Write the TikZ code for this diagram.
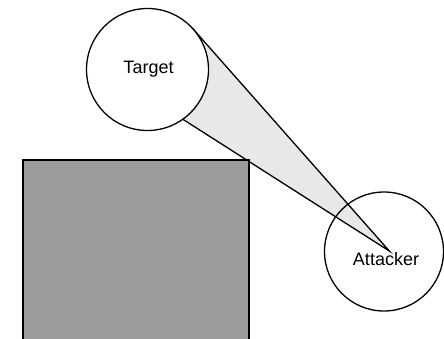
\documentclass[tikz,border=0pt]{standalone}
\usepackage{fontspec}
\setmainfont{Liberation Sans}
\usetikzlibrary{calc}
\definecolor{wallgray}{HTML}{9C9C9C}
\definecolor{conegray}{HTML}{E8E8E8}
\tikzset{
  line/.style={line width=1.3pt, draw=black},
  roundnode/.style={circle, line, inner sep=0pt, outer sep=0pt},
  lbl/.style={inner sep=0pt, font=\fontsize{18}{21}\selectfont},
}
\begin{document}
\begin{tikzpicture}[x=1pt, y=-1pt]
\useasboundingbox (0,0) rectangle (444,338);
\clip (0,0) rectangle (444,338);
% viewing cone (behind everything)
\coordinate (apex) at (389.3,251);
\coordinate (tcenter) at (147.5,69.5);
\coordinate (tup) at (193.2,29.1);
\coordinate (tlow) at (160,104.7);
\draw[line, fill=conegray, line join=miter] (apex) -- (tup) -- (tcenter) -- (tlow) -- cycle;
% wall
\node[line, fill=wallgray, anchor=north west, minimum width=226pt, minimum height=190pt, inner sep=0pt, outer sep=0pt] (wall) at (23,160) {};
% target
\node[roundnode, fill=white, minimum size=122pt] (target) at (tcenter) {};
\node[lbl] (targetlabel) at (148.5,69) {Target};
% attacker
\node[roundnode, minimum size=119pt] (attacker) at (384,251.5) {};
\node[lbl] (attackerlabel) at (386,259) {Attacker};
\end{tikzpicture}
\end{document}
